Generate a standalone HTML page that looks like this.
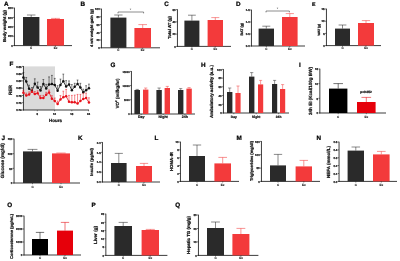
<!DOCTYPE html>
<html><head><meta charset="utf-8"><title>Figure</title>
<style>
html,body{margin:0;padding:0;background:#fff;}
body{width:400px;height:261px;overflow:hidden;}
svg{display:block;font-family:"Liberation Sans",sans-serif;text-rendering:geometricPrecision;}
</style></head><body>
<svg width="400" height="261" viewBox="0 0 400 261">
<rect x="0" y="0" width="400" height="261" fill="#ffffff"/>
<text x="4.00" y="5.70" font-size="6.3" text-anchor="start" font-weight="bold" fill="#000" stroke="#000" stroke-width="0.24">A</text>
<text x="6.00" y="26.00" font-size="4.27" text-anchor="middle" font-weight="bold" fill="#111" stroke="#111" stroke-width="0.24" transform="rotate(-90 6.00 26.00)" textLength="32" lengthAdjust="spacingAndGlyphs">Body weight (g)</text>
<line x1="14.45" y1="7.70" x2="14.45" y2="46.00" stroke="#1a1a1a" stroke-width="0.85"/>
<line x1="14.00" y1="45.60" x2="72.00" y2="45.60" stroke="#1a1a1a" stroke-width="0.85"/>
<line x1="13.00" y1="8.00" x2="14.40" y2="8.00" stroke="#1a1a1a" stroke-width="0.6"/>
<text x="12.70" y="9.20" font-size="2.8" text-anchor="end" font-weight="bold" fill="#222" stroke="#222" stroke-width="0.24">800</text>
<line x1="13.00" y1="17.40" x2="14.40" y2="17.40" stroke="#1a1a1a" stroke-width="0.6"/>
<text x="12.70" y="18.60" font-size="2.8" text-anchor="end" font-weight="bold" fill="#222" stroke="#222" stroke-width="0.24">600</text>
<line x1="13.00" y1="26.80" x2="14.40" y2="26.80" stroke="#1a1a1a" stroke-width="0.6"/>
<text x="12.70" y="28.00" font-size="2.8" text-anchor="end" font-weight="bold" fill="#222" stroke="#222" stroke-width="0.24">400</text>
<line x1="13.00" y1="36.20" x2="14.40" y2="36.20" stroke="#1a1a1a" stroke-width="0.6"/>
<text x="12.70" y="37.40" font-size="2.8" text-anchor="end" font-weight="bold" fill="#222" stroke="#222" stroke-width="0.24">200</text>
<line x1="13.00" y1="45.60" x2="14.40" y2="45.60" stroke="#1a1a1a" stroke-width="0.6"/>
<text x="12.70" y="46.80" font-size="2.8" text-anchor="end" font-weight="bold" fill="#222" stroke="#222" stroke-width="0.24">0</text>
<line x1="31.20" y1="15.00" x2="31.20" y2="17.00" stroke="#2a2a2a" stroke-width="0.55"/>
<line x1="26.94" y1="15.00" x2="35.46" y2="15.00" stroke="#2a2a2a" stroke-width="0.55"/>
<rect x="23.00" y="17.00" width="16.40" height="28.60" fill="#2a2a2a"/>
<line x1="55.50" y1="18.40" x2="55.50" y2="19.00" stroke="#f33a3b" stroke-width="0.55"/>
<line x1="51.08" y1="18.40" x2="59.92" y2="18.40" stroke="#f33a3b" stroke-width="0.55"/>
<rect x="47.00" y="19.00" width="17.00" height="26.60" fill="#f33a3b"/>
<line x1="31.20" y1="45.60" x2="31.20" y2="46.80" stroke="#1a1a1a" stroke-width="0.5"/>
<text x="31.20" y="49.30" font-size="3.0" text-anchor="middle" font-weight="bold" fill="#262626" stroke="#262626" stroke-width="0.14">C</text>
<line x1="55.50" y1="45.60" x2="55.50" y2="46.80" stroke="#1a1a1a" stroke-width="0.5"/>
<text x="55.50" y="49.30" font-size="3.0" text-anchor="middle" font-weight="bold" fill="#262626" stroke="#262626" stroke-width="0.14">Ex</text>
<text x="80.60" y="6.00" font-size="6.3" text-anchor="start" font-weight="bold" fill="#000" stroke="#000" stroke-width="0.24">B</text>
<text x="93.00" y="28.00" font-size="4.0" text-anchor="middle" font-weight="bold" fill="#111" stroke="#111" stroke-width="0.24" transform="rotate(-90 93.00 28.00)" textLength="38" lengthAdjust="spacingAndGlyphs">4 wk weight gain (g)</text>
<line x1="101.45" y1="8.70" x2="101.45" y2="48.20" stroke="#1a1a1a" stroke-width="0.85"/>
<line x1="101.00" y1="47.80" x2="160.00" y2="47.80" stroke="#1a1a1a" stroke-width="0.85"/>
<line x1="100.00" y1="9.00" x2="101.40" y2="9.00" stroke="#1a1a1a" stroke-width="0.6"/>
<text x="99.70" y="10.20" font-size="2.8" text-anchor="end" font-weight="bold" fill="#222" stroke="#222" stroke-width="0.24">100</text>
<line x1="100.00" y1="16.80" x2="101.40" y2="16.80" stroke="#1a1a1a" stroke-width="0.6"/>
<text x="99.70" y="18.00" font-size="2.8" text-anchor="end" font-weight="bold" fill="#222" stroke="#222" stroke-width="0.24">80</text>
<line x1="100.00" y1="24.50" x2="101.40" y2="24.50" stroke="#1a1a1a" stroke-width="0.6"/>
<text x="99.70" y="25.70" font-size="2.8" text-anchor="end" font-weight="bold" fill="#222" stroke="#222" stroke-width="0.24">60</text>
<line x1="100.00" y1="32.30" x2="101.40" y2="32.30" stroke="#1a1a1a" stroke-width="0.6"/>
<text x="99.70" y="33.50" font-size="2.8" text-anchor="end" font-weight="bold" fill="#222" stroke="#222" stroke-width="0.24">40</text>
<line x1="100.00" y1="40.00" x2="101.40" y2="40.00" stroke="#1a1a1a" stroke-width="0.6"/>
<text x="99.70" y="41.20" font-size="2.8" text-anchor="end" font-weight="bold" fill="#222" stroke="#222" stroke-width="0.24">20</text>
<line x1="100.00" y1="47.80" x2="101.40" y2="47.80" stroke="#1a1a1a" stroke-width="0.6"/>
<text x="99.70" y="49.00" font-size="2.8" text-anchor="end" font-weight="bold" fill="#222" stroke="#222" stroke-width="0.24">0</text>
<line x1="118.40" y1="15.00" x2="118.40" y2="17.60" stroke="#2a2a2a" stroke-width="0.55"/>
<line x1="114.24" y1="15.00" x2="122.56" y2="15.00" stroke="#2a2a2a" stroke-width="0.55"/>
<rect x="110.40" y="17.60" width="16.00" height="30.20" fill="#2a2a2a"/>
<line x1="142.70" y1="24.60" x2="142.70" y2="28.00" stroke="#f33a3b" stroke-width="0.55"/>
<line x1="138.38" y1="24.60" x2="147.02" y2="24.60" stroke="#f33a3b" stroke-width="0.55"/>
<rect x="134.40" y="28.00" width="16.60" height="19.80" fill="#f33a3b"/>
<line x1="118.40" y1="47.80" x2="118.40" y2="49.00" stroke="#1a1a1a" stroke-width="0.5"/>
<text x="118.40" y="50.50" font-size="3.0" text-anchor="middle" font-weight="bold" fill="#262626" stroke="#262626" stroke-width="0.14">C</text>
<line x1="142.70" y1="47.80" x2="142.70" y2="49.00" stroke="#1a1a1a" stroke-width="0.5"/>
<text x="142.70" y="50.50" font-size="3.0" text-anchor="middle" font-weight="bold" fill="#262626" stroke="#262626" stroke-width="0.14">Ex</text>
<line x1="118.00" y1="12.00" x2="143.60" y2="12.00" stroke="#1a1a1a" stroke-width="0.5"/>
<line x1="118.00" y1="12.00" x2="118.00" y2="13.40" stroke="#1a1a1a" stroke-width="0.5"/>
<line x1="143.60" y1="12.00" x2="143.60" y2="13.40" stroke="#1a1a1a" stroke-width="0.5"/>
<text x="130.60" y="10.90" font-size="3.8" text-anchor="middle" font-weight="bold" fill="#555" stroke="#555" stroke-width="0">*</text>
<text x="164.20" y="6.00" font-size="6.3" text-anchor="start" font-weight="bold" fill="#000" stroke="#000" stroke-width="0.24">C</text>
<text x="170.80" y="27.50" font-size="4.28" text-anchor="middle" font-weight="bold" fill="#111" stroke="#111" stroke-width="0.24" transform="rotate(-90 170.80 27.50)" textLength="23" lengthAdjust="spacingAndGlyphs">Total AT (g)</text>
<line x1="177.45" y1="9.30" x2="177.45" y2="46.80" stroke="#1a1a1a" stroke-width="0.85"/>
<line x1="177.00" y1="46.40" x2="231.00" y2="46.40" stroke="#1a1a1a" stroke-width="0.85"/>
<line x1="176.00" y1="9.60" x2="177.40" y2="9.60" stroke="#1a1a1a" stroke-width="0.6"/>
<text x="175.70" y="10.80" font-size="2.8" text-anchor="end" font-weight="bold" fill="#222" stroke="#222" stroke-width="0.24">60</text>
<line x1="176.00" y1="21.90" x2="177.40" y2="21.90" stroke="#1a1a1a" stroke-width="0.6"/>
<text x="175.70" y="23.10" font-size="2.8" text-anchor="end" font-weight="bold" fill="#222" stroke="#222" stroke-width="0.24">40</text>
<line x1="176.00" y1="34.10" x2="177.40" y2="34.10" stroke="#1a1a1a" stroke-width="0.6"/>
<text x="175.70" y="35.30" font-size="2.8" text-anchor="end" font-weight="bold" fill="#222" stroke="#222" stroke-width="0.24">20</text>
<line x1="176.00" y1="46.40" x2="177.40" y2="46.40" stroke="#1a1a1a" stroke-width="0.6"/>
<text x="175.70" y="47.60" font-size="2.8" text-anchor="end" font-weight="bold" fill="#222" stroke="#222" stroke-width="0.24">0</text>
<line x1="191.90" y1="15.20" x2="191.90" y2="20.60" stroke="#2a2a2a" stroke-width="0.55"/>
<line x1="188.00" y1="15.20" x2="195.80" y2="15.20" stroke="#2a2a2a" stroke-width="0.55"/>
<rect x="184.40" y="20.60" width="15.00" height="25.80" fill="#2a2a2a"/>
<line x1="215.30" y1="17.60" x2="215.30" y2="20.00" stroke="#f33a3b" stroke-width="0.55"/>
<line x1="211.30" y1="17.60" x2="219.30" y2="17.60" stroke="#f33a3b" stroke-width="0.55"/>
<rect x="207.60" y="20.00" width="15.40" height="26.40" fill="#f33a3b"/>
<line x1="191.90" y1="46.40" x2="191.90" y2="47.60" stroke="#1a1a1a" stroke-width="0.5"/>
<text x="191.90" y="49.90" font-size="3.0" text-anchor="middle" font-weight="bold" fill="#262626" stroke="#262626" stroke-width="0.14">C</text>
<line x1="215.30" y1="46.40" x2="215.30" y2="47.60" stroke="#1a1a1a" stroke-width="0.5"/>
<text x="215.30" y="49.90" font-size="3.0" text-anchor="middle" font-weight="bold" fill="#262626" stroke="#262626" stroke-width="0.14">Ex</text>
<text x="236.00" y="6.00" font-size="6.3" text-anchor="start" font-weight="bold" fill="#000" stroke="#000" stroke-width="0.24">D</text>
<text x="243.30" y="29.30" font-size="3.56" text-anchor="middle" font-weight="bold" fill="#111" stroke="#111" stroke-width="0.24" transform="rotate(-90 243.30 29.30)" textLength="12.6" lengthAdjust="spacingAndGlyphs">BAT (g)</text>
<line x1="251.45" y1="9.70" x2="251.45" y2="46.40" stroke="#1a1a1a" stroke-width="0.85"/>
<line x1="251.00" y1="46.00" x2="305.00" y2="46.00" stroke="#1a1a1a" stroke-width="0.85"/>
<line x1="250.00" y1="10.00" x2="251.40" y2="10.00" stroke="#1a1a1a" stroke-width="0.6"/>
<text x="249.70" y="11.20" font-size="2.8" text-anchor="end" font-weight="bold" fill="#222" stroke="#222" stroke-width="0.24">1.5</text>
<line x1="250.00" y1="22.00" x2="251.40" y2="22.00" stroke="#1a1a1a" stroke-width="0.6"/>
<text x="249.70" y="23.20" font-size="2.8" text-anchor="end" font-weight="bold" fill="#222" stroke="#222" stroke-width="0.24">1.0</text>
<line x1="250.00" y1="34.00" x2="251.40" y2="34.00" stroke="#1a1a1a" stroke-width="0.6"/>
<text x="249.70" y="35.20" font-size="2.8" text-anchor="end" font-weight="bold" fill="#222" stroke="#222" stroke-width="0.24">0.5</text>
<line x1="250.00" y1="46.00" x2="251.40" y2="46.00" stroke="#1a1a1a" stroke-width="0.6"/>
<text x="249.70" y="47.20" font-size="2.8" text-anchor="end" font-weight="bold" fill="#222" stroke="#222" stroke-width="0.24">0.0</text>
<line x1="266.30" y1="26.20" x2="266.30" y2="28.60" stroke="#2a2a2a" stroke-width="0.55"/>
<line x1="262.30" y1="26.20" x2="270.30" y2="26.20" stroke="#2a2a2a" stroke-width="0.55"/>
<rect x="258.60" y="28.60" width="15.40" height="17.40" fill="#2a2a2a"/>
<line x1="289.80" y1="13.60" x2="289.80" y2="17.00" stroke="#f33a3b" stroke-width="0.55"/>
<line x1="285.74" y1="13.60" x2="293.86" y2="13.60" stroke="#f33a3b" stroke-width="0.55"/>
<rect x="282.00" y="17.00" width="15.60" height="29.00" fill="#f33a3b"/>
<line x1="266.30" y1="46.00" x2="266.30" y2="47.20" stroke="#1a1a1a" stroke-width="0.5"/>
<text x="266.30" y="49.70" font-size="3.0" text-anchor="middle" font-weight="bold" fill="#262626" stroke="#262626" stroke-width="0.14">C</text>
<line x1="289.80" y1="46.00" x2="289.80" y2="47.20" stroke="#1a1a1a" stroke-width="0.5"/>
<text x="289.80" y="49.70" font-size="3.0" text-anchor="middle" font-weight="bold" fill="#262626" stroke="#262626" stroke-width="0.14">Ex</text>
<line x1="266.00" y1="11.00" x2="289.40" y2="11.00" stroke="#1a1a1a" stroke-width="0.5"/>
<line x1="266.00" y1="11.00" x2="266.00" y2="12.40" stroke="#1a1a1a" stroke-width="0.5"/>
<line x1="289.40" y1="11.00" x2="289.40" y2="12.40" stroke="#1a1a1a" stroke-width="0.5"/>
<text x="277.60" y="10.00" font-size="3.8" text-anchor="middle" font-weight="bold" fill="#555" stroke="#555" stroke-width="0">*</text>
<text x="312.00" y="5.70" font-size="5.2" text-anchor="start" font-weight="bold" fill="#000" stroke="#000" stroke-width="0.24">E</text>
<text x="319.80" y="29.80" font-size="3.13" text-anchor="middle" font-weight="bold" fill="#111" stroke="#111" stroke-width="0.24" transform="rotate(-90 319.80 29.80)" textLength="11.6" lengthAdjust="spacingAndGlyphs">WAT (g)</text>
<line x1="326.45" y1="8.70" x2="326.45" y2="46.00" stroke="#1a1a1a" stroke-width="0.85"/>
<line x1="326.00" y1="45.60" x2="381.00" y2="45.60" stroke="#1a1a1a" stroke-width="0.85"/>
<line x1="325.00" y1="9.00" x2="326.40" y2="9.00" stroke="#1a1a1a" stroke-width="0.6"/>
<text x="324.70" y="10.20" font-size="2.8" text-anchor="end" font-weight="bold" fill="#222" stroke="#222" stroke-width="0.24">15</text>
<line x1="325.00" y1="21.20" x2="326.40" y2="21.20" stroke="#1a1a1a" stroke-width="0.6"/>
<text x="324.70" y="22.40" font-size="2.8" text-anchor="end" font-weight="bold" fill="#222" stroke="#222" stroke-width="0.24">10</text>
<line x1="325.00" y1="33.40" x2="326.40" y2="33.40" stroke="#1a1a1a" stroke-width="0.6"/>
<text x="324.70" y="34.60" font-size="2.8" text-anchor="end" font-weight="bold" fill="#222" stroke="#222" stroke-width="0.24">5</text>
<line x1="325.00" y1="45.60" x2="326.40" y2="45.60" stroke="#1a1a1a" stroke-width="0.6"/>
<text x="324.70" y="46.80" font-size="2.8" text-anchor="end" font-weight="bold" fill="#222" stroke="#222" stroke-width="0.24">0</text>
<line x1="342.50" y1="25.00" x2="342.50" y2="28.60" stroke="#2a2a2a" stroke-width="0.55"/>
<line x1="338.60" y1="25.00" x2="346.40" y2="25.00" stroke="#2a2a2a" stroke-width="0.55"/>
<rect x="335.00" y="28.60" width="15.00" height="17.00" fill="#2a2a2a"/>
<line x1="366.00" y1="20.60" x2="366.00" y2="23.00" stroke="#f33a3b" stroke-width="0.55"/>
<line x1="361.84" y1="20.60" x2="370.16" y2="20.60" stroke="#f33a3b" stroke-width="0.55"/>
<rect x="358.00" y="23.00" width="16.00" height="22.60" fill="#f33a3b"/>
<line x1="342.50" y1="45.60" x2="342.50" y2="46.80" stroke="#1a1a1a" stroke-width="0.5"/>
<text x="342.50" y="49.30" font-size="3.0" text-anchor="middle" font-weight="bold" fill="#262626" stroke="#262626" stroke-width="0.14">C</text>
<line x1="366.00" y1="45.60" x2="366.00" y2="46.80" stroke="#1a1a1a" stroke-width="0.5"/>
<text x="366.00" y="49.30" font-size="3.0" text-anchor="middle" font-weight="bold" fill="#262626" stroke="#262626" stroke-width="0.14">Ex</text>
<rect x="24.00" y="66.40" width="31.00" height="43.60" fill="#dadada"/>
<text x="9.60" y="66.20" font-size="6.3" text-anchor="start" font-weight="bold" fill="#000" stroke="#000" stroke-width="0.24">F</text>
<text x="12.40" y="90.00" font-size="4.73" text-anchor="middle" font-weight="bold" fill="#111" stroke="#111" stroke-width="0.24" transform="rotate(-90 12.40 90.00)" textLength="10" lengthAdjust="spacingAndGlyphs">RER</text>
<line x1="23.45" y1="66.00" x2="23.45" y2="110.40" stroke="#1a1a1a" stroke-width="0.85"/>
<line x1="23.00" y1="110.00" x2="89.00" y2="110.00" stroke="#1a1a1a" stroke-width="0.85"/>
<line x1="22.00" y1="66.40" x2="23.40" y2="66.40" stroke="#1a1a1a" stroke-width="0.6"/>
<text x="21.70" y="67.60" font-size="2.8" text-anchor="end" font-weight="bold" fill="#222" stroke="#222" stroke-width="0.24">0.86</text>
<line x1="22.00" y1="73.70" x2="23.40" y2="73.70" stroke="#1a1a1a" stroke-width="0.6"/>
<text x="21.70" y="74.90" font-size="2.8" text-anchor="end" font-weight="bold" fill="#222" stroke="#222" stroke-width="0.24">0.84</text>
<line x1="22.00" y1="80.90" x2="23.40" y2="80.90" stroke="#1a1a1a" stroke-width="0.6"/>
<text x="21.70" y="82.10" font-size="2.8" text-anchor="end" font-weight="bold" fill="#222" stroke="#222" stroke-width="0.24">0.82</text>
<line x1="22.00" y1="88.20" x2="23.40" y2="88.20" stroke="#1a1a1a" stroke-width="0.6"/>
<text x="21.70" y="89.40" font-size="2.8" text-anchor="end" font-weight="bold" fill="#222" stroke="#222" stroke-width="0.24">0.80</text>
<line x1="22.00" y1="95.50" x2="23.40" y2="95.50" stroke="#1a1a1a" stroke-width="0.6"/>
<text x="21.70" y="96.70" font-size="2.8" text-anchor="end" font-weight="bold" fill="#222" stroke="#222" stroke-width="0.24">0.78</text>
<line x1="22.00" y1="102.70" x2="23.40" y2="102.70" stroke="#1a1a1a" stroke-width="0.6"/>
<text x="21.70" y="103.90" font-size="2.8" text-anchor="end" font-weight="bold" fill="#222" stroke="#222" stroke-width="0.24">0.76</text>
<line x1="22.00" y1="110.00" x2="23.40" y2="110.00" stroke="#1a1a1a" stroke-width="0.6"/>
<text x="21.70" y="111.20" font-size="2.8" text-anchor="end" font-weight="bold" fill="#222" stroke="#222" stroke-width="0.24">0.74</text>
<line x1="37.30" y1="110.00" x2="37.30" y2="111.30" stroke="#1a1a1a" stroke-width="0.5"/>
<text x="37.30" y="114.60" font-size="2.8" text-anchor="middle" font-weight="bold" fill="#222" stroke="#222" stroke-width="0.24">6</text>
<line x1="54.60" y1="110.00" x2="54.60" y2="111.30" stroke="#1a1a1a" stroke-width="0.5"/>
<text x="54.60" y="114.60" font-size="2.8" text-anchor="middle" font-weight="bold" fill="#222" stroke="#222" stroke-width="0.24">12</text>
<line x1="71.80" y1="110.00" x2="71.80" y2="111.30" stroke="#1a1a1a" stroke-width="0.5"/>
<text x="71.80" y="114.60" font-size="2.8" text-anchor="middle" font-weight="bold" fill="#222" stroke="#222" stroke-width="0.24">18</text>
<line x1="88.60" y1="110.00" x2="88.60" y2="111.30" stroke="#1a1a1a" stroke-width="0.5"/>
<text x="88.60" y="114.60" font-size="2.8" text-anchor="middle" font-weight="bold" fill="#222" stroke="#222" stroke-width="0.24">24</text>
<text x="55.50" y="121.60" font-size="4.5" text-anchor="middle" font-weight="bold" fill="#111" stroke="#111" stroke-width="0.24" textLength="13" lengthAdjust="spacingAndGlyphs">Hours</text>
<line x1="23.40" y1="77.50" x2="23.40" y2="72.50" stroke="#111" stroke-width="0.5"/>
<line x1="22.50" y1="72.50" x2="24.30" y2="72.50" stroke="#111" stroke-width="0.5"/>
<line x1="26.25" y1="81.50" x2="26.25" y2="77.50" stroke="#111" stroke-width="0.5"/>
<line x1="25.35" y1="77.50" x2="27.15" y2="77.50" stroke="#111" stroke-width="0.5"/>
<line x1="29.10" y1="88.70" x2="29.10" y2="85.20" stroke="#111" stroke-width="0.5"/>
<line x1="28.20" y1="85.20" x2="30.00" y2="85.20" stroke="#111" stroke-width="0.5"/>
<line x1="31.95" y1="91.00" x2="31.95" y2="87.50" stroke="#111" stroke-width="0.5"/>
<line x1="31.05" y1="87.50" x2="32.85" y2="87.50" stroke="#111" stroke-width="0.5"/>
<line x1="34.80" y1="83.80" x2="34.80" y2="78.80" stroke="#111" stroke-width="0.5"/>
<line x1="33.90" y1="78.80" x2="35.70" y2="78.80" stroke="#111" stroke-width="0.5"/>
<line x1="37.65" y1="87.60" x2="37.65" y2="82.10" stroke="#111" stroke-width="0.5"/>
<line x1="36.75" y1="82.10" x2="38.55" y2="82.10" stroke="#111" stroke-width="0.5"/>
<line x1="40.50" y1="90.50" x2="40.50" y2="86.50" stroke="#111" stroke-width="0.5"/>
<line x1="39.60" y1="86.50" x2="41.40" y2="86.50" stroke="#111" stroke-width="0.5"/>
<line x1="43.35" y1="84.10" x2="43.35" y2="79.50" stroke="#111" stroke-width="0.5"/>
<line x1="42.45" y1="79.50" x2="44.25" y2="79.50" stroke="#111" stroke-width="0.5"/>
<line x1="46.20" y1="88.40" x2="46.20" y2="84.40" stroke="#111" stroke-width="0.5"/>
<line x1="45.30" y1="84.40" x2="47.10" y2="84.40" stroke="#111" stroke-width="0.5"/>
<line x1="49.05" y1="84.60" x2="49.05" y2="76.90" stroke="#111" stroke-width="0.5"/>
<line x1="48.15" y1="76.90" x2="49.95" y2="76.90" stroke="#111" stroke-width="0.5"/>
<line x1="51.90" y1="84.10" x2="51.90" y2="75.40" stroke="#111" stroke-width="0.5"/>
<line x1="51.00" y1="75.40" x2="52.80" y2="75.40" stroke="#111" stroke-width="0.5"/>
<line x1="54.75" y1="84.90" x2="54.75" y2="78.40" stroke="#111" stroke-width="0.5"/>
<line x1="53.85" y1="78.40" x2="55.65" y2="78.40" stroke="#111" stroke-width="0.5"/>
<line x1="57.60" y1="90.70" x2="57.60" y2="85.70" stroke="#111" stroke-width="0.5"/>
<line x1="56.70" y1="85.70" x2="58.50" y2="85.70" stroke="#111" stroke-width="0.5"/>
<line x1="60.45" y1="84.90" x2="60.45" y2="79.10" stroke="#111" stroke-width="0.5"/>
<line x1="59.55" y1="79.10" x2="61.35" y2="79.10" stroke="#111" stroke-width="0.5"/>
<line x1="63.30" y1="81.30" x2="63.30" y2="74.10" stroke="#111" stroke-width="0.5"/>
<line x1="62.40" y1="74.10" x2="64.20" y2="74.10" stroke="#111" stroke-width="0.5"/>
<line x1="66.15" y1="86.60" x2="66.15" y2="80.60" stroke="#111" stroke-width="0.5"/>
<line x1="65.25" y1="80.60" x2="67.05" y2="80.60" stroke="#111" stroke-width="0.5"/>
<line x1="69.00" y1="84.40" x2="69.00" y2="80.90" stroke="#111" stroke-width="0.5"/>
<line x1="68.10" y1="80.90" x2="69.90" y2="80.90" stroke="#111" stroke-width="0.5"/>
<line x1="71.85" y1="90.30" x2="71.85" y2="84.60" stroke="#111" stroke-width="0.5"/>
<line x1="70.95" y1="84.60" x2="72.75" y2="84.60" stroke="#111" stroke-width="0.5"/>
<line x1="74.70" y1="86.80" x2="74.70" y2="83.30" stroke="#111" stroke-width="0.5"/>
<line x1="73.80" y1="83.30" x2="75.60" y2="83.30" stroke="#111" stroke-width="0.5"/>
<line x1="77.55" y1="84.00" x2="77.55" y2="80.00" stroke="#111" stroke-width="0.5"/>
<line x1="76.65" y1="80.00" x2="78.45" y2="80.00" stroke="#111" stroke-width="0.5"/>
<line x1="80.40" y1="87.60" x2="80.40" y2="83.30" stroke="#111" stroke-width="0.5"/>
<line x1="79.50" y1="83.30" x2="81.30" y2="83.30" stroke="#111" stroke-width="0.5"/>
<line x1="83.25" y1="92.20" x2="83.25" y2="89.20" stroke="#111" stroke-width="0.5"/>
<line x1="82.35" y1="89.20" x2="84.15" y2="89.20" stroke="#111" stroke-width="0.5"/>
<line x1="86.10" y1="90.30" x2="86.10" y2="85.70" stroke="#111" stroke-width="0.5"/>
<line x1="85.20" y1="85.70" x2="87.00" y2="85.70" stroke="#111" stroke-width="0.5"/>
<line x1="88.95" y1="88.20" x2="88.95" y2="84.10" stroke="#111" stroke-width="0.5"/>
<line x1="88.05" y1="84.10" x2="89.85" y2="84.10" stroke="#111" stroke-width="0.5"/>
<polyline points="23.40,77.50 26.25,81.50 29.10,88.70 31.95,91.00 34.80,83.80 37.65,87.60 40.50,90.50 43.35,84.10 46.20,88.40 49.05,84.60 51.90,84.10 54.75,84.90 57.60,90.70 60.45,84.90 63.30,81.30 66.15,86.60 69.00,84.40 71.85,90.30 74.70,86.80 77.55,84.00 80.40,87.60 83.25,92.20 86.10,90.30 88.95,88.20" fill="none" stroke="#111" stroke-width="0.8"/>
<circle cx="23.40" cy="77.50" r="1.25" fill="#111"/>
<circle cx="26.25" cy="81.50" r="1.25" fill="#111"/>
<circle cx="29.10" cy="88.70" r="1.25" fill="#111"/>
<circle cx="31.95" cy="91.00" r="1.25" fill="#111"/>
<circle cx="34.80" cy="83.80" r="1.25" fill="#111"/>
<circle cx="37.65" cy="87.60" r="1.25" fill="#111"/>
<circle cx="40.50" cy="90.50" r="1.25" fill="#111"/>
<circle cx="43.35" cy="84.10" r="1.25" fill="#111"/>
<circle cx="46.20" cy="88.40" r="1.25" fill="#111"/>
<circle cx="49.05" cy="84.60" r="1.25" fill="#111"/>
<circle cx="51.90" cy="84.10" r="1.25" fill="#111"/>
<circle cx="54.75" cy="84.90" r="1.25" fill="#111"/>
<circle cx="57.60" cy="90.70" r="1.25" fill="#111"/>
<circle cx="60.45" cy="84.90" r="1.25" fill="#111"/>
<circle cx="63.30" cy="81.30" r="1.25" fill="#111"/>
<circle cx="66.15" cy="86.60" r="1.25" fill="#111"/>
<circle cx="69.00" cy="84.40" r="1.25" fill="#111"/>
<circle cx="71.85" cy="90.30" r="1.25" fill="#111"/>
<circle cx="74.70" cy="86.80" r="1.25" fill="#111"/>
<circle cx="77.55" cy="84.00" r="1.25" fill="#111"/>
<circle cx="80.40" cy="87.60" r="1.25" fill="#111"/>
<circle cx="83.25" cy="92.20" r="1.25" fill="#111"/>
<circle cx="86.10" cy="90.30" r="1.25" fill="#111"/>
<circle cx="88.95" cy="88.20" r="1.25" fill="#111"/>
<line x1="23.40" y1="92.80" x2="23.40" y2="90.30" stroke="#e8101a" stroke-width="0.5"/>
<line x1="22.50" y1="90.30" x2="24.30" y2="90.30" stroke="#e8101a" stroke-width="0.5"/>
<line x1="26.25" y1="95.60" x2="26.25" y2="93.10" stroke="#e8101a" stroke-width="0.5"/>
<line x1="25.35" y1="93.10" x2="27.15" y2="93.10" stroke="#e8101a" stroke-width="0.5"/>
<line x1="29.10" y1="94.40" x2="29.10" y2="91.90" stroke="#e8101a" stroke-width="0.5"/>
<line x1="28.20" y1="91.90" x2="30.00" y2="91.90" stroke="#e8101a" stroke-width="0.5"/>
<line x1="31.95" y1="91.80" x2="31.95" y2="89.30" stroke="#e8101a" stroke-width="0.5"/>
<line x1="31.05" y1="89.30" x2="32.85" y2="89.30" stroke="#e8101a" stroke-width="0.5"/>
<line x1="34.80" y1="94.00" x2="34.80" y2="91.50" stroke="#e8101a" stroke-width="0.5"/>
<line x1="33.90" y1="91.50" x2="35.70" y2="91.50" stroke="#e8101a" stroke-width="0.5"/>
<line x1="37.65" y1="93.30" x2="37.65" y2="90.80" stroke="#e8101a" stroke-width="0.5"/>
<line x1="36.75" y1="90.80" x2="38.55" y2="90.80" stroke="#e8101a" stroke-width="0.5"/>
<line x1="40.50" y1="97.90" x2="40.50" y2="95.40" stroke="#e8101a" stroke-width="0.5"/>
<line x1="39.60" y1="95.40" x2="41.40" y2="95.40" stroke="#e8101a" stroke-width="0.5"/>
<line x1="43.35" y1="97.90" x2="43.35" y2="95.40" stroke="#e8101a" stroke-width="0.5"/>
<line x1="42.45" y1="95.40" x2="44.25" y2="95.40" stroke="#e8101a" stroke-width="0.5"/>
<line x1="46.20" y1="94.80" x2="46.20" y2="92.30" stroke="#e8101a" stroke-width="0.5"/>
<line x1="45.30" y1="92.30" x2="47.10" y2="92.30" stroke="#e8101a" stroke-width="0.5"/>
<line x1="49.05" y1="92.50" x2="49.05" y2="90.00" stroke="#e8101a" stroke-width="0.5"/>
<line x1="48.15" y1="90.00" x2="49.95" y2="90.00" stroke="#e8101a" stroke-width="0.5"/>
<line x1="51.90" y1="98.70" x2="51.90" y2="95.70" stroke="#e8101a" stroke-width="0.5"/>
<line x1="51.00" y1="95.70" x2="52.80" y2="95.70" stroke="#e8101a" stroke-width="0.5"/>
<line x1="54.75" y1="101.00" x2="54.75" y2="98.00" stroke="#e8101a" stroke-width="0.5"/>
<line x1="53.85" y1="98.00" x2="55.65" y2="98.00" stroke="#e8101a" stroke-width="0.5"/>
<line x1="57.60" y1="104.00" x2="57.60" y2="101.00" stroke="#e8101a" stroke-width="0.5"/>
<line x1="56.70" y1="101.00" x2="58.50" y2="101.00" stroke="#e8101a" stroke-width="0.5"/>
<line x1="60.45" y1="99.40" x2="60.45" y2="95.60" stroke="#e8101a" stroke-width="0.5"/>
<line x1="59.55" y1="95.60" x2="61.35" y2="95.60" stroke="#e8101a" stroke-width="0.5"/>
<line x1="63.30" y1="97.20" x2="63.30" y2="91.20" stroke="#e8101a" stroke-width="0.5"/>
<line x1="62.40" y1="91.20" x2="64.20" y2="91.20" stroke="#e8101a" stroke-width="0.5"/>
<line x1="66.15" y1="96.30" x2="66.15" y2="89.40" stroke="#e8101a" stroke-width="0.5"/>
<line x1="65.25" y1="89.40" x2="67.05" y2="89.40" stroke="#e8101a" stroke-width="0.5"/>
<line x1="69.00" y1="101.80" x2="69.00" y2="95.40" stroke="#e8101a" stroke-width="0.5"/>
<line x1="68.10" y1="95.40" x2="69.90" y2="95.40" stroke="#e8101a" stroke-width="0.5"/>
<line x1="71.85" y1="102.30" x2="71.85" y2="95.40" stroke="#e8101a" stroke-width="0.5"/>
<line x1="70.95" y1="95.40" x2="72.75" y2="95.40" stroke="#e8101a" stroke-width="0.5"/>
<line x1="74.70" y1="102.30" x2="74.70" y2="95.10" stroke="#e8101a" stroke-width="0.5"/>
<line x1="73.80" y1="95.10" x2="75.60" y2="95.10" stroke="#e8101a" stroke-width="0.5"/>
<line x1="77.55" y1="103.40" x2="77.55" y2="94.40" stroke="#e8101a" stroke-width="0.5"/>
<line x1="76.65" y1="94.40" x2="78.45" y2="94.40" stroke="#e8101a" stroke-width="0.5"/>
<line x1="80.40" y1="101.00" x2="80.40" y2="94.40" stroke="#e8101a" stroke-width="0.5"/>
<line x1="79.50" y1="94.40" x2="81.30" y2="94.40" stroke="#e8101a" stroke-width="0.5"/>
<line x1="83.25" y1="99.00" x2="83.25" y2="93.30" stroke="#e8101a" stroke-width="0.5"/>
<line x1="82.35" y1="93.30" x2="84.15" y2="93.30" stroke="#e8101a" stroke-width="0.5"/>
<line x1="86.10" y1="98.10" x2="86.10" y2="93.10" stroke="#e8101a" stroke-width="0.5"/>
<line x1="85.20" y1="93.10" x2="87.00" y2="93.10" stroke="#e8101a" stroke-width="0.5"/>
<line x1="88.95" y1="102.40" x2="88.95" y2="97.80" stroke="#e8101a" stroke-width="0.5"/>
<line x1="88.05" y1="97.80" x2="89.85" y2="97.80" stroke="#e8101a" stroke-width="0.5"/>
<polyline points="23.40,92.80 26.25,95.60 29.10,94.40 31.95,91.80 34.80,94.00 37.65,93.30 40.50,97.90 43.35,97.90 46.20,94.80 49.05,92.50 51.90,98.70 54.75,101.00 57.60,104.00 60.45,99.40 63.30,97.20 66.15,96.30 69.00,101.80 71.85,102.30 74.70,102.30 77.55,103.40 80.40,101.00 83.25,99.00 86.10,98.10 88.95,102.40" fill="none" stroke="#e8101a" stroke-width="0.8"/>
<circle cx="23.40" cy="92.80" r="1.25" fill="#e8101a"/>
<circle cx="26.25" cy="95.60" r="1.25" fill="#e8101a"/>
<circle cx="29.10" cy="94.40" r="1.25" fill="#e8101a"/>
<circle cx="31.95" cy="91.80" r="1.25" fill="#e8101a"/>
<circle cx="34.80" cy="94.00" r="1.25" fill="#e8101a"/>
<circle cx="37.65" cy="93.30" r="1.25" fill="#e8101a"/>
<circle cx="40.50" cy="97.90" r="1.25" fill="#e8101a"/>
<circle cx="43.35" cy="97.90" r="1.25" fill="#e8101a"/>
<circle cx="46.20" cy="94.80" r="1.25" fill="#e8101a"/>
<circle cx="49.05" cy="92.50" r="1.25" fill="#e8101a"/>
<circle cx="51.90" cy="98.70" r="1.25" fill="#e8101a"/>
<circle cx="54.75" cy="101.00" r="1.25" fill="#e8101a"/>
<circle cx="57.60" cy="104.00" r="1.25" fill="#e8101a"/>
<circle cx="60.45" cy="99.40" r="1.25" fill="#e8101a"/>
<circle cx="63.30" cy="97.20" r="1.25" fill="#e8101a"/>
<circle cx="66.15" cy="96.30" r="1.25" fill="#e8101a"/>
<circle cx="69.00" cy="101.80" r="1.25" fill="#e8101a"/>
<circle cx="71.85" cy="102.30" r="1.25" fill="#e8101a"/>
<circle cx="74.70" cy="102.30" r="1.25" fill="#e8101a"/>
<circle cx="77.55" cy="103.40" r="1.25" fill="#e8101a"/>
<circle cx="80.40" cy="101.00" r="1.25" fill="#e8101a"/>
<circle cx="83.25" cy="99.00" r="1.25" fill="#e8101a"/>
<circle cx="86.10" cy="98.10" r="1.25" fill="#e8101a"/>
<circle cx="88.95" cy="102.40" r="1.25" fill="#e8101a"/>
<text x="110.60" y="67.00" font-size="6.3" text-anchor="start" font-weight="bold" fill="#000" stroke="#000" stroke-width="0.24">G</text>
<text x="118.9" y="93.5" font-size="4.5" font-weight="bold" fill="#111" stroke="#111" stroke-width="0.18" text-anchor="middle" transform="rotate(-90 118.9 93.5)">VO<tspan font-size="2.8" dy="-1.6">2</tspan><tspan dy="1.6"> (ml/kg/hr)</tspan></text>
<line x1="131.45" y1="71.10" x2="131.45" y2="114.40" stroke="#1a1a1a" stroke-width="0.85"/>
<line x1="131.00" y1="114.00" x2="195.00" y2="114.00" stroke="#1a1a1a" stroke-width="0.85"/>
<line x1="130.00" y1="71.40" x2="131.40" y2="71.40" stroke="#1a1a1a" stroke-width="0.6"/>
<text x="129.70" y="72.60" font-size="2.6" text-anchor="end" font-weight="bold" fill="#222" stroke="#222" stroke-width="0.24">15000</text>
<line x1="130.00" y1="85.60" x2="131.40" y2="85.60" stroke="#1a1a1a" stroke-width="0.6"/>
<text x="129.70" y="86.80" font-size="2.6" text-anchor="end" font-weight="bold" fill="#222" stroke="#222" stroke-width="0.24">10000</text>
<line x1="130.00" y1="99.80" x2="131.40" y2="99.80" stroke="#1a1a1a" stroke-width="0.6"/>
<text x="129.70" y="101.00" font-size="2.6" text-anchor="end" font-weight="bold" fill="#222" stroke="#222" stroke-width="0.24">5000</text>
<line x1="130.00" y1="114.00" x2="131.40" y2="114.00" stroke="#1a1a1a" stroke-width="0.6"/>
<text x="129.70" y="115.20" font-size="2.6" text-anchor="end" font-weight="bold" fill="#222" stroke="#222" stroke-width="0.24">0</text>
<line x1="137.20" y1="89.40" x2="137.20" y2="90.00" stroke="#2a2a2a" stroke-width="0.5"/>
<line x1="135.52" y1="89.40" x2="138.88" y2="89.40" stroke="#2a2a2a" stroke-width="0.5"/>
<rect x="134.40" y="90.00" width="5.60" height="24.00" fill="#2a2a2a"/>
<line x1="145.70" y1="88.00" x2="145.70" y2="89.60" stroke="#f33a3b" stroke-width="0.5"/>
<line x1="144.08" y1="88.00" x2="147.32" y2="88.00" stroke="#f33a3b" stroke-width="0.5"/>
<rect x="143.00" y="89.60" width="5.40" height="24.40" fill="#f33a3b"/>
<line x1="159.10" y1="88.00" x2="159.10" y2="90.00" stroke="#2a2a2a" stroke-width="0.5"/>
<line x1="157.48" y1="88.00" x2="160.72" y2="88.00" stroke="#2a2a2a" stroke-width="0.5"/>
<rect x="156.40" y="90.00" width="5.40" height="24.00" fill="#2a2a2a"/>
<line x1="167.30" y1="86.40" x2="167.30" y2="88.00" stroke="#f33a3b" stroke-width="0.5"/>
<line x1="165.68" y1="86.40" x2="168.92" y2="86.40" stroke="#f33a3b" stroke-width="0.5"/>
<rect x="164.60" y="88.00" width="5.40" height="26.00" fill="#f33a3b"/>
<line x1="180.70" y1="88.60" x2="180.70" y2="90.00" stroke="#2a2a2a" stroke-width="0.5"/>
<line x1="179.08" y1="88.60" x2="182.32" y2="88.60" stroke="#2a2a2a" stroke-width="0.5"/>
<rect x="178.00" y="90.00" width="5.40" height="24.00" fill="#2a2a2a"/>
<line x1="189.10" y1="87.60" x2="189.10" y2="88.60" stroke="#f33a3b" stroke-width="0.5"/>
<line x1="187.48" y1="87.60" x2="190.72" y2="87.60" stroke="#f33a3b" stroke-width="0.5"/>
<rect x="186.40" y="88.60" width="5.40" height="25.40" fill="#f33a3b"/>
<line x1="141.20" y1="114.00" x2="141.20" y2="115.20" stroke="#1a1a1a" stroke-width="0.5"/>
<text x="141.20" y="118.30" font-size="3.6" text-anchor="middle" font-weight="bold" fill="#222" stroke="#222" stroke-width="0.24">Day</text>
<line x1="163.20" y1="114.00" x2="163.20" y2="115.20" stroke="#1a1a1a" stroke-width="0.5"/>
<text x="163.20" y="118.30" font-size="3.6" text-anchor="middle" font-weight="bold" fill="#222" stroke="#222" stroke-width="0.24">Night</text>
<line x1="184.90" y1="114.00" x2="184.90" y2="115.20" stroke="#1a1a1a" stroke-width="0.5"/>
<text x="184.90" y="118.30" font-size="3.6" text-anchor="middle" font-weight="bold" fill="#222" stroke="#222" stroke-width="0.24">24h</text>
<text x="201.00" y="67.00" font-size="6.3" text-anchor="start" font-weight="bold" fill="#000" stroke="#000" stroke-width="0.24">H</text>
<text x="213.20" y="91.50" font-size="4.44" text-anchor="middle" font-weight="bold" fill="#111" stroke="#111" stroke-width="0.24" transform="rotate(-90 213.20 91.50)" textLength="53" lengthAdjust="spacingAndGlyphs">Ambulatory activity (a.u.)</text>
<line x1="223.45" y1="69.10" x2="223.45" y2="113.40" stroke="#1a1a1a" stroke-width="0.85"/>
<line x1="223.00" y1="113.00" x2="289.00" y2="113.00" stroke="#1a1a1a" stroke-width="0.85"/>
<line x1="222.00" y1="69.40" x2="223.40" y2="69.40" stroke="#1a1a1a" stroke-width="0.6"/>
<text x="221.70" y="70.60" font-size="2.8" text-anchor="end" font-weight="bold" fill="#222" stroke="#222" stroke-width="0.24">100</text>
<line x1="222.00" y1="78.10" x2="223.40" y2="78.10" stroke="#1a1a1a" stroke-width="0.6"/>
<text x="221.70" y="79.30" font-size="2.8" text-anchor="end" font-weight="bold" fill="#222" stroke="#222" stroke-width="0.24">80</text>
<line x1="222.00" y1="86.80" x2="223.40" y2="86.80" stroke="#1a1a1a" stroke-width="0.6"/>
<text x="221.70" y="88.00" font-size="2.8" text-anchor="end" font-weight="bold" fill="#222" stroke="#222" stroke-width="0.24">60</text>
<line x1="222.00" y1="95.60" x2="223.40" y2="95.60" stroke="#1a1a1a" stroke-width="0.6"/>
<text x="221.70" y="96.80" font-size="2.8" text-anchor="end" font-weight="bold" fill="#222" stroke="#222" stroke-width="0.24">40</text>
<line x1="222.00" y1="104.30" x2="223.40" y2="104.30" stroke="#1a1a1a" stroke-width="0.6"/>
<text x="221.70" y="105.50" font-size="2.8" text-anchor="end" font-weight="bold" fill="#222" stroke="#222" stroke-width="0.24">20</text>
<line x1="222.00" y1="113.00" x2="223.40" y2="113.00" stroke="#1a1a1a" stroke-width="0.6"/>
<text x="221.70" y="114.20" font-size="2.8" text-anchor="end" font-weight="bold" fill="#222" stroke="#222" stroke-width="0.24">0</text>
<line x1="229.70" y1="88.00" x2="229.70" y2="92.00" stroke="#2a2a2a" stroke-width="0.5"/>
<line x1="228.08" y1="88.00" x2="231.32" y2="88.00" stroke="#2a2a2a" stroke-width="0.5"/>
<rect x="227.00" y="92.00" width="5.40" height="21.00" fill="#2a2a2a"/>
<line x1="238.00" y1="86.00" x2="238.00" y2="93.00" stroke="#f33a3b" stroke-width="0.5"/>
<line x1="236.44" y1="86.00" x2="239.56" y2="86.00" stroke="#f33a3b" stroke-width="0.5"/>
<rect x="235.40" y="93.00" width="5.20" height="20.00" fill="#f33a3b"/>
<line x1="251.70" y1="72.60" x2="251.70" y2="76.60" stroke="#2a2a2a" stroke-width="0.5"/>
<line x1="250.08" y1="72.60" x2="253.32" y2="72.60" stroke="#2a2a2a" stroke-width="0.5"/>
<rect x="249.00" y="76.60" width="5.40" height="36.40" fill="#2a2a2a"/>
<line x1="260.60" y1="80.40" x2="260.60" y2="84.40" stroke="#f33a3b" stroke-width="0.5"/>
<line x1="259.04" y1="80.40" x2="262.16" y2="80.40" stroke="#f33a3b" stroke-width="0.5"/>
<rect x="258.00" y="84.40" width="5.20" height="28.60" fill="#f33a3b"/>
<line x1="274.60" y1="80.40" x2="274.60" y2="84.00" stroke="#2a2a2a" stroke-width="0.5"/>
<line x1="273.04" y1="80.40" x2="276.16" y2="80.40" stroke="#2a2a2a" stroke-width="0.5"/>
<rect x="272.00" y="84.00" width="5.20" height="29.00" fill="#2a2a2a"/>
<line x1="282.60" y1="84.60" x2="282.60" y2="89.00" stroke="#f33a3b" stroke-width="0.5"/>
<line x1="281.04" y1="84.60" x2="284.16" y2="84.60" stroke="#f33a3b" stroke-width="0.5"/>
<rect x="280.00" y="89.00" width="5.20" height="24.00" fill="#f33a3b"/>
<line x1="233.80" y1="113.00" x2="233.80" y2="114.20" stroke="#1a1a1a" stroke-width="0.5"/>
<text x="233.80" y="117.50" font-size="3.3" text-anchor="middle" font-weight="bold" fill="#222" stroke="#222" stroke-width="0.24">Day</text>
<line x1="256.20" y1="113.00" x2="256.20" y2="114.20" stroke="#1a1a1a" stroke-width="0.5"/>
<text x="256.20" y="117.50" font-size="3.3" text-anchor="middle" font-weight="bold" fill="#222" stroke="#222" stroke-width="0.24">Night</text>
<line x1="278.60" y1="113.00" x2="278.60" y2="114.20" stroke="#1a1a1a" stroke-width="0.5"/>
<text x="278.60" y="117.50" font-size="3.3" text-anchor="middle" font-weight="bold" fill="#222" stroke="#222" stroke-width="0.24">24h</text>
<text x="299.00" y="66.80" font-size="6.3" text-anchor="start" font-weight="bold" fill="#000" stroke="#000" stroke-width="0.24">I</text>
<text x="312.40" y="91.00" font-size="4.57" text-anchor="middle" font-weight="bold" fill="#111" stroke="#111" stroke-width="0.24" transform="rotate(-90 312.40 91.00)" textLength="48" lengthAdjust="spacingAndGlyphs">24h EI (Kcal/100g BW)</text>
<line x1="319.85" y1="68.70" x2="319.85" y2="113.40" stroke="#1a1a1a" stroke-width="0.85"/>
<line x1="319.40" y1="113.00" x2="386.00" y2="113.00" stroke="#1a1a1a" stroke-width="0.85"/>
<line x1="318.40" y1="69.00" x2="319.80" y2="69.00" stroke="#1a1a1a" stroke-width="0.6"/>
<text x="318.10" y="70.20" font-size="2.8" text-anchor="end" font-weight="bold" fill="#222" stroke="#222" stroke-width="0.24">15</text>
<line x1="318.40" y1="83.70" x2="319.80" y2="83.70" stroke="#1a1a1a" stroke-width="0.6"/>
<text x="318.10" y="84.90" font-size="2.8" text-anchor="end" font-weight="bold" fill="#222" stroke="#222" stroke-width="0.24">10</text>
<line x1="318.40" y1="98.30" x2="319.80" y2="98.30" stroke="#1a1a1a" stroke-width="0.6"/>
<text x="318.10" y="99.50" font-size="2.8" text-anchor="end" font-weight="bold" fill="#222" stroke="#222" stroke-width="0.24">5</text>
<line x1="318.40" y1="113.00" x2="319.80" y2="113.00" stroke="#1a1a1a" stroke-width="0.6"/>
<text x="318.10" y="114.20" font-size="2.8" text-anchor="end" font-weight="bold" fill="#222" stroke="#222" stroke-width="0.24">0</text>
<line x1="338.20" y1="83.60" x2="338.20" y2="88.60" stroke="#000000" stroke-width="0.55"/>
<line x1="333.42" y1="83.60" x2="342.98" y2="83.60" stroke="#000000" stroke-width="0.55"/>
<rect x="329.00" y="88.60" width="18.40" height="24.40" fill="#000000"/>
<line x1="366.30" y1="97.40" x2="366.30" y2="102.00" stroke="#e6000a" stroke-width="0.55"/>
<line x1="361.46" y1="97.40" x2="371.14" y2="97.40" stroke="#e6000a" stroke-width="0.55"/>
<rect x="357.00" y="102.00" width="18.60" height="11.00" fill="#e6000a"/>
<line x1="338.20" y1="113.00" x2="338.20" y2="114.20" stroke="#1a1a1a" stroke-width="0.5"/>
<text x="338.20" y="117.70" font-size="3.0" text-anchor="middle" font-weight="bold" fill="#262626" stroke="#262626" stroke-width="0.14">C</text>
<line x1="366.30" y1="113.00" x2="366.30" y2="114.20" stroke="#1a1a1a" stroke-width="0.5"/>
<text x="366.30" y="117.70" font-size="3.0" text-anchor="middle" font-weight="bold" fill="#262626" stroke="#262626" stroke-width="0.14">Ex</text>
<text x="366.00" y="93.00" font-size="3.11" text-anchor="middle" font-weight="bold" fill="#111" stroke="#111" stroke-width="0.24" textLength="11.5" lengthAdjust="spacingAndGlyphs">p=0.052</text>
<text x="1.40" y="139.80" font-size="6.3" text-anchor="start" font-weight="bold" fill="#000" stroke="#000" stroke-width="0.24">J</text>
<text x="4.30" y="160.70" font-size="4.63" text-anchor="middle" font-weight="bold" fill="#111" stroke="#111" stroke-width="0.24" transform="rotate(-90 4.30 160.70)" textLength="35" lengthAdjust="spacingAndGlyphs">Glucose (mg/dl)</text>
<line x1="14.05" y1="138.70" x2="14.05" y2="183.40" stroke="#1a1a1a" stroke-width="0.85"/>
<line x1="13.60" y1="183.00" x2="80.00" y2="183.00" stroke="#1a1a1a" stroke-width="0.85"/>
<line x1="12.60" y1="139.00" x2="14.00" y2="139.00" stroke="#1a1a1a" stroke-width="0.6"/>
<text x="12.30" y="140.20" font-size="2.8" text-anchor="end" font-weight="bold" fill="#222" stroke="#222" stroke-width="0.24">150</text>
<line x1="12.60" y1="153.70" x2="14.00" y2="153.70" stroke="#1a1a1a" stroke-width="0.6"/>
<text x="12.30" y="154.90" font-size="2.8" text-anchor="end" font-weight="bold" fill="#222" stroke="#222" stroke-width="0.24">100</text>
<line x1="12.60" y1="168.30" x2="14.00" y2="168.30" stroke="#1a1a1a" stroke-width="0.6"/>
<text x="12.30" y="169.50" font-size="2.8" text-anchor="end" font-weight="bold" fill="#222" stroke="#222" stroke-width="0.24">50</text>
<line x1="12.60" y1="183.00" x2="14.00" y2="183.00" stroke="#1a1a1a" stroke-width="0.6"/>
<text x="12.30" y="184.20" font-size="2.8" text-anchor="end" font-weight="bold" fill="#222" stroke="#222" stroke-width="0.24">0</text>
<line x1="32.50" y1="149.40" x2="32.50" y2="151.40" stroke="#2a2a2a" stroke-width="0.55"/>
<line x1="27.56" y1="149.40" x2="37.44" y2="149.40" stroke="#2a2a2a" stroke-width="0.55"/>
<rect x="23.00" y="151.40" width="19.00" height="31.60" fill="#2a2a2a"/>
<line x1="61.00" y1="153.00" x2="61.00" y2="153.40" stroke="#f33a3b" stroke-width="0.55"/>
<line x1="56.32" y1="153.00" x2="65.68" y2="153.00" stroke="#f33a3b" stroke-width="0.55"/>
<rect x="52.00" y="153.40" width="18.00" height="29.60" fill="#f33a3b"/>
<line x1="32.50" y1="183.00" x2="32.50" y2="184.20" stroke="#1a1a1a" stroke-width="0.5"/>
<text x="32.50" y="187.70" font-size="3.0" text-anchor="middle" font-weight="bold" fill="#262626" stroke="#262626" stroke-width="0.14">C</text>
<line x1="61.00" y1="183.00" x2="61.00" y2="184.20" stroke="#1a1a1a" stroke-width="0.5"/>
<text x="61.00" y="187.70" font-size="3.0" text-anchor="middle" font-weight="bold" fill="#262626" stroke="#262626" stroke-width="0.14">Ex</text>
<text x="78.00" y="139.80" font-size="6.3" text-anchor="start" font-weight="bold" fill="#000" stroke="#000" stroke-width="0.24">K</text>
<text x="93.20" y="162.00" font-size="4.1" text-anchor="middle" font-weight="bold" fill="#111" stroke="#111" stroke-width="0.24" transform="rotate(-90 93.20 162.00)" textLength="28" lengthAdjust="spacingAndGlyphs">Insulin (pg/ml)</text>
<line x1="102.45" y1="142.10" x2="102.45" y2="182.40" stroke="#1a1a1a" stroke-width="0.85"/>
<line x1="102.00" y1="182.00" x2="160.00" y2="182.00" stroke="#1a1a1a" stroke-width="0.85"/>
<line x1="101.00" y1="142.40" x2="102.40" y2="142.40" stroke="#1a1a1a" stroke-width="0.6"/>
<text x="100.70" y="143.60" font-size="2.8" text-anchor="end" font-weight="bold" fill="#222" stroke="#222" stroke-width="0.24">2.0</text>
<line x1="101.00" y1="152.30" x2="102.40" y2="152.30" stroke="#1a1a1a" stroke-width="0.6"/>
<text x="100.70" y="153.50" font-size="2.8" text-anchor="end" font-weight="bold" fill="#222" stroke="#222" stroke-width="0.24">1.5</text>
<line x1="101.00" y1="162.20" x2="102.40" y2="162.20" stroke="#1a1a1a" stroke-width="0.6"/>
<text x="100.70" y="163.40" font-size="2.8" text-anchor="end" font-weight="bold" fill="#222" stroke="#222" stroke-width="0.24">1.0</text>
<line x1="101.00" y1="172.10" x2="102.40" y2="172.10" stroke="#1a1a1a" stroke-width="0.6"/>
<text x="100.70" y="173.30" font-size="2.8" text-anchor="end" font-weight="bold" fill="#222" stroke="#222" stroke-width="0.24">0.5</text>
<line x1="101.00" y1="182.00" x2="102.40" y2="182.00" stroke="#1a1a1a" stroke-width="0.6"/>
<text x="100.70" y="183.20" font-size="2.8" text-anchor="end" font-weight="bold" fill="#222" stroke="#222" stroke-width="0.24">0.0</text>
<line x1="118.80" y1="153.40" x2="118.80" y2="163.00" stroke="#2a2a2a" stroke-width="0.55"/>
<line x1="114.74" y1="153.40" x2="122.86" y2="153.40" stroke="#2a2a2a" stroke-width="0.55"/>
<rect x="111.00" y="163.00" width="15.60" height="19.00" fill="#2a2a2a"/>
<line x1="144.00" y1="163.40" x2="144.00" y2="166.00" stroke="#f33a3b" stroke-width="0.55"/>
<line x1="139.84" y1="163.40" x2="148.16" y2="163.40" stroke="#f33a3b" stroke-width="0.55"/>
<rect x="136.00" y="166.00" width="16.00" height="16.00" fill="#f33a3b"/>
<line x1="118.80" y1="182.00" x2="118.80" y2="183.20" stroke="#1a1a1a" stroke-width="0.5"/>
<text x="118.80" y="186.30" font-size="3.0" text-anchor="middle" font-weight="bold" fill="#262626" stroke="#262626" stroke-width="0.14">C</text>
<line x1="144.00" y1="182.00" x2="144.00" y2="183.20" stroke="#1a1a1a" stroke-width="0.5"/>
<text x="144.00" y="186.30" font-size="3.0" text-anchor="middle" font-weight="bold" fill="#262626" stroke="#262626" stroke-width="0.14">Ex</text>
<text x="154.60" y="139.80" font-size="6.3" text-anchor="start" font-weight="bold" fill="#000" stroke="#000" stroke-width="0.24">L</text>
<text x="172.60" y="161.50" font-size="4.33" text-anchor="middle" font-weight="bold" fill="#111" stroke="#111" stroke-width="0.24" transform="rotate(-90 172.60 161.50)" textLength="19" lengthAdjust="spacingAndGlyphs">HOMA-IR</text>
<line x1="180.45" y1="141.70" x2="180.45" y2="181.80" stroke="#1a1a1a" stroke-width="0.85"/>
<line x1="180.00" y1="181.40" x2="239.00" y2="181.40" stroke="#1a1a1a" stroke-width="0.85"/>
<line x1="179.00" y1="142.00" x2="180.40" y2="142.00" stroke="#1a1a1a" stroke-width="0.6"/>
<text x="178.70" y="143.20" font-size="2.8" text-anchor="end" font-weight="bold" fill="#222" stroke="#222" stroke-width="0.24">10</text>
<line x1="179.00" y1="149.90" x2="180.40" y2="149.90" stroke="#1a1a1a" stroke-width="0.6"/>
<text x="178.70" y="151.10" font-size="2.8" text-anchor="end" font-weight="bold" fill="#222" stroke="#222" stroke-width="0.24">8</text>
<line x1="179.00" y1="157.80" x2="180.40" y2="157.80" stroke="#1a1a1a" stroke-width="0.6"/>
<text x="178.70" y="159.00" font-size="2.8" text-anchor="end" font-weight="bold" fill="#222" stroke="#222" stroke-width="0.24">6</text>
<line x1="179.00" y1="165.60" x2="180.40" y2="165.60" stroke="#1a1a1a" stroke-width="0.6"/>
<text x="178.70" y="166.80" font-size="2.8" text-anchor="end" font-weight="bold" fill="#222" stroke="#222" stroke-width="0.24">4</text>
<line x1="179.00" y1="173.50" x2="180.40" y2="173.50" stroke="#1a1a1a" stroke-width="0.6"/>
<text x="178.70" y="174.70" font-size="2.8" text-anchor="end" font-weight="bold" fill="#222" stroke="#222" stroke-width="0.24">2</text>
<line x1="179.00" y1="181.40" x2="180.40" y2="181.40" stroke="#1a1a1a" stroke-width="0.6"/>
<text x="178.70" y="182.60" font-size="2.8" text-anchor="end" font-weight="bold" fill="#222" stroke="#222" stroke-width="0.24">0</text>
<line x1="197.00" y1="145.00" x2="197.00" y2="156.00" stroke="#2a2a2a" stroke-width="0.55"/>
<line x1="192.84" y1="145.00" x2="201.16" y2="145.00" stroke="#2a2a2a" stroke-width="0.55"/>
<rect x="189.00" y="156.00" width="16.00" height="25.40" fill="#2a2a2a"/>
<line x1="222.70" y1="157.40" x2="222.70" y2="163.40" stroke="#f33a3b" stroke-width="0.55"/>
<line x1="218.38" y1="157.40" x2="227.02" y2="157.40" stroke="#f33a3b" stroke-width="0.55"/>
<rect x="214.40" y="163.40" width="16.60" height="18.00" fill="#f33a3b"/>
<line x1="197.00" y1="181.40" x2="197.00" y2="182.60" stroke="#1a1a1a" stroke-width="0.5"/>
<text x="197.00" y="185.90" font-size="3.0" text-anchor="middle" font-weight="bold" fill="#262626" stroke="#262626" stroke-width="0.14">C</text>
<line x1="222.70" y1="181.40" x2="222.70" y2="182.60" stroke="#1a1a1a" stroke-width="0.5"/>
<text x="222.70" y="185.90" font-size="3.0" text-anchor="middle" font-weight="bold" fill="#262626" stroke="#262626" stroke-width="0.14">Ex</text>
<text x="236.60" y="139.80" font-size="6.3" text-anchor="start" font-weight="bold" fill="#000" stroke="#000" stroke-width="0.24">M</text>
<text x="252.60" y="161.00" font-size="4.09" text-anchor="middle" font-weight="bold" fill="#111" stroke="#111" stroke-width="0.24" transform="rotate(-90 252.60 161.00)" textLength="40" lengthAdjust="spacingAndGlyphs">Triglycerides (mg/dl)</text>
<line x1="261.45" y1="141.10" x2="261.45" y2="181.80" stroke="#1a1a1a" stroke-width="0.85"/>
<line x1="261.00" y1="181.40" x2="320.00" y2="181.40" stroke="#1a1a1a" stroke-width="0.85"/>
<line x1="260.00" y1="141.40" x2="261.40" y2="141.40" stroke="#1a1a1a" stroke-width="0.6"/>
<text x="259.70" y="142.60" font-size="2.8" text-anchor="end" font-weight="bold" fill="#222" stroke="#222" stroke-width="0.24">150</text>
<line x1="260.00" y1="154.70" x2="261.40" y2="154.70" stroke="#1a1a1a" stroke-width="0.6"/>
<text x="259.70" y="155.90" font-size="2.8" text-anchor="end" font-weight="bold" fill="#222" stroke="#222" stroke-width="0.24">100</text>
<line x1="260.00" y1="168.10" x2="261.40" y2="168.10" stroke="#1a1a1a" stroke-width="0.6"/>
<text x="259.70" y="169.30" font-size="2.8" text-anchor="end" font-weight="bold" fill="#222" stroke="#222" stroke-width="0.24">50</text>
<line x1="260.00" y1="181.40" x2="261.40" y2="181.40" stroke="#1a1a1a" stroke-width="0.6"/>
<text x="259.70" y="182.60" font-size="2.8" text-anchor="end" font-weight="bold" fill="#222" stroke="#222" stroke-width="0.24">0</text>
<line x1="278.00" y1="154.40" x2="278.00" y2="165.40" stroke="#2a2a2a" stroke-width="0.55"/>
<line x1="273.84" y1="154.40" x2="282.16" y2="154.40" stroke="#2a2a2a" stroke-width="0.55"/>
<rect x="270.00" y="165.40" width="16.00" height="16.00" fill="#2a2a2a"/>
<line x1="303.80" y1="160.40" x2="303.80" y2="166.40" stroke="#f33a3b" stroke-width="0.55"/>
<line x1="299.54" y1="160.40" x2="308.06" y2="160.40" stroke="#f33a3b" stroke-width="0.55"/>
<rect x="295.60" y="166.40" width="16.40" height="15.00" fill="#f33a3b"/>
<line x1="278.00" y1="181.40" x2="278.00" y2="182.60" stroke="#1a1a1a" stroke-width="0.5"/>
<text x="278.00" y="185.90" font-size="3.0" text-anchor="middle" font-weight="bold" fill="#262626" stroke="#262626" stroke-width="0.14">C</text>
<line x1="303.80" y1="181.40" x2="303.80" y2="182.60" stroke="#1a1a1a" stroke-width="0.5"/>
<text x="303.80" y="185.90" font-size="3.0" text-anchor="middle" font-weight="bold" fill="#262626" stroke="#262626" stroke-width="0.14">Ex</text>
<text x="316.60" y="139.80" font-size="6.3" text-anchor="start" font-weight="bold" fill="#000" stroke="#000" stroke-width="0.24">N</text>
<text x="330.40" y="162.00" font-size="4.49" text-anchor="middle" font-weight="bold" fill="#111" stroke="#111" stroke-width="0.24" transform="rotate(-90 330.40 162.00)" textLength="32" lengthAdjust="spacingAndGlyphs">NEFA (mmol/L)</text>
<line x1="339.05" y1="141.70" x2="339.05" y2="181.80" stroke="#1a1a1a" stroke-width="0.85"/>
<line x1="338.60" y1="181.40" x2="397.00" y2="181.40" stroke="#1a1a1a" stroke-width="0.85"/>
<line x1="337.60" y1="142.00" x2="339.00" y2="142.00" stroke="#1a1a1a" stroke-width="0.6"/>
<text x="337.30" y="143.20" font-size="2.8" text-anchor="end" font-weight="bold" fill="#222" stroke="#222" stroke-width="0.24">0.5</text>
<line x1="337.60" y1="149.90" x2="339.00" y2="149.90" stroke="#1a1a1a" stroke-width="0.6"/>
<text x="337.30" y="151.10" font-size="2.8" text-anchor="end" font-weight="bold" fill="#222" stroke="#222" stroke-width="0.24">0.4</text>
<line x1="337.60" y1="157.80" x2="339.00" y2="157.80" stroke="#1a1a1a" stroke-width="0.6"/>
<text x="337.30" y="159.00" font-size="2.8" text-anchor="end" font-weight="bold" fill="#222" stroke="#222" stroke-width="0.24">0.3</text>
<line x1="337.60" y1="165.60" x2="339.00" y2="165.60" stroke="#1a1a1a" stroke-width="0.6"/>
<text x="337.30" y="166.80" font-size="2.8" text-anchor="end" font-weight="bold" fill="#222" stroke="#222" stroke-width="0.24">0.2</text>
<line x1="337.60" y1="173.50" x2="339.00" y2="173.50" stroke="#1a1a1a" stroke-width="0.6"/>
<text x="337.30" y="174.70" font-size="2.8" text-anchor="end" font-weight="bold" fill="#222" stroke="#222" stroke-width="0.24">0.1</text>
<line x1="337.60" y1="181.40" x2="339.00" y2="181.40" stroke="#1a1a1a" stroke-width="0.6"/>
<text x="337.30" y="182.60" font-size="2.8" text-anchor="end" font-weight="bold" fill="#222" stroke="#222" stroke-width="0.24">0.0</text>
<line x1="355.80" y1="147.00" x2="355.80" y2="150.60" stroke="#2a2a2a" stroke-width="0.55"/>
<line x1="351.54" y1="147.00" x2="360.06" y2="147.00" stroke="#2a2a2a" stroke-width="0.55"/>
<rect x="347.60" y="150.60" width="16.40" height="30.80" fill="#2a2a2a"/>
<line x1="381.30" y1="151.40" x2="381.30" y2="154.40" stroke="#f33a3b" stroke-width="0.55"/>
<line x1="376.98" y1="151.40" x2="385.62" y2="151.40" stroke="#f33a3b" stroke-width="0.55"/>
<rect x="373.00" y="154.40" width="16.60" height="27.00" fill="#f33a3b"/>
<line x1="355.80" y1="181.40" x2="355.80" y2="182.60" stroke="#1a1a1a" stroke-width="0.5"/>
<text x="355.80" y="185.50" font-size="3.0" text-anchor="middle" font-weight="bold" fill="#262626" stroke="#262626" stroke-width="0.14">C</text>
<line x1="381.30" y1="181.40" x2="381.30" y2="182.60" stroke="#1a1a1a" stroke-width="0.5"/>
<text x="381.30" y="185.50" font-size="3.0" text-anchor="middle" font-weight="bold" fill="#262626" stroke="#262626" stroke-width="0.14">Ex</text>
<text x="7.20" y="207.20" font-size="6.3" text-anchor="start" font-weight="bold" fill="#000" stroke="#000" stroke-width="0.24">O</text>
<text x="13.20" y="236.50" font-size="4.07" text-anchor="middle" font-weight="bold" fill="#111" stroke="#111" stroke-width="0.24" transform="rotate(-90 13.20 236.50)" textLength="45" lengthAdjust="spacingAndGlyphs">Corticosterone (pg/mL)</text>
<line x1="24.05" y1="215.70" x2="24.05" y2="255.40" stroke="#1a1a1a" stroke-width="0.85"/>
<line x1="23.60" y1="255.00" x2="81.00" y2="255.00" stroke="#1a1a1a" stroke-width="0.85"/>
<line x1="22.60" y1="216.00" x2="24.00" y2="216.00" stroke="#1a1a1a" stroke-width="0.6"/>
<text x="22.30" y="217.20" font-size="2.8" text-anchor="end" font-weight="bold" fill="#222" stroke="#222" stroke-width="0.24">3000</text>
<line x1="22.60" y1="229.00" x2="24.00" y2="229.00" stroke="#1a1a1a" stroke-width="0.6"/>
<text x="22.30" y="230.20" font-size="2.8" text-anchor="end" font-weight="bold" fill="#222" stroke="#222" stroke-width="0.24">2000</text>
<line x1="22.60" y1="242.00" x2="24.00" y2="242.00" stroke="#1a1a1a" stroke-width="0.6"/>
<text x="22.30" y="243.20" font-size="2.8" text-anchor="end" font-weight="bold" fill="#222" stroke="#222" stroke-width="0.24">1000</text>
<line x1="22.60" y1="255.00" x2="24.00" y2="255.00" stroke="#1a1a1a" stroke-width="0.6"/>
<text x="22.30" y="256.20" font-size="2.8" text-anchor="end" font-weight="bold" fill="#222" stroke="#222" stroke-width="0.24">0</text>
<line x1="40.00" y1="232.40" x2="40.00" y2="239.00" stroke="#000000" stroke-width="0.55"/>
<line x1="35.84" y1="232.40" x2="44.16" y2="232.40" stroke="#000000" stroke-width="0.55"/>
<rect x="32.00" y="239.00" width="16.00" height="16.00" fill="#000000"/>
<line x1="65.00" y1="222.40" x2="65.00" y2="230.60" stroke="#e6000a" stroke-width="0.55"/>
<line x1="60.84" y1="222.40" x2="69.16" y2="222.40" stroke="#e6000a" stroke-width="0.55"/>
<rect x="57.00" y="230.60" width="16.00" height="24.40" fill="#e6000a"/>
<line x1="40.00" y1="255.00" x2="40.00" y2="256.20" stroke="#1a1a1a" stroke-width="0.5"/>
<text x="40.00" y="258.70" font-size="3.0" text-anchor="middle" font-weight="bold" fill="#262626" stroke="#262626" stroke-width="0.14">C</text>
<line x1="65.00" y1="255.00" x2="65.00" y2="256.20" stroke="#1a1a1a" stroke-width="0.5"/>
<text x="65.00" y="258.70" font-size="3.0" text-anchor="middle" font-weight="bold" fill="#262626" stroke="#262626" stroke-width="0.14">Ex</text>
<text x="91.60" y="207.00" font-size="6.3" text-anchor="start" font-weight="bold" fill="#000" stroke="#000" stroke-width="0.24">P</text>
<text x="97.40" y="235.00" font-size="4.56" text-anchor="middle" font-weight="bold" fill="#111" stroke="#111" stroke-width="0.24" transform="rotate(-90 97.40 235.00)" textLength="18" lengthAdjust="spacingAndGlyphs">Liver (g)</text>
<line x1="105.85" y1="213.70" x2="105.85" y2="255.80" stroke="#1a1a1a" stroke-width="0.85"/>
<line x1="105.40" y1="255.40" x2="167.40" y2="255.40" stroke="#1a1a1a" stroke-width="0.85"/>
<line x1="104.40" y1="214.00" x2="105.80" y2="214.00" stroke="#1a1a1a" stroke-width="0.6"/>
<text x="104.10" y="215.20" font-size="2.8" text-anchor="end" font-weight="bold" fill="#222" stroke="#222" stroke-width="0.24">25</text>
<line x1="104.40" y1="222.30" x2="105.80" y2="222.30" stroke="#1a1a1a" stroke-width="0.6"/>
<text x="104.10" y="223.50" font-size="2.8" text-anchor="end" font-weight="bold" fill="#222" stroke="#222" stroke-width="0.24">20</text>
<line x1="104.40" y1="230.60" x2="105.80" y2="230.60" stroke="#1a1a1a" stroke-width="0.6"/>
<text x="104.10" y="231.80" font-size="2.8" text-anchor="end" font-weight="bold" fill="#222" stroke="#222" stroke-width="0.24">15</text>
<line x1="104.40" y1="238.80" x2="105.80" y2="238.80" stroke="#1a1a1a" stroke-width="0.6"/>
<text x="104.10" y="240.00" font-size="2.8" text-anchor="end" font-weight="bold" fill="#222" stroke="#222" stroke-width="0.24">10</text>
<line x1="104.40" y1="247.10" x2="105.80" y2="247.10" stroke="#1a1a1a" stroke-width="0.6"/>
<text x="104.10" y="248.30" font-size="2.8" text-anchor="end" font-weight="bold" fill="#222" stroke="#222" stroke-width="0.24">5</text>
<line x1="104.40" y1="255.40" x2="105.80" y2="255.40" stroke="#1a1a1a" stroke-width="0.6"/>
<text x="104.10" y="256.60" font-size="2.8" text-anchor="end" font-weight="bold" fill="#222" stroke="#222" stroke-width="0.24">0</text>
<line x1="123.20" y1="222.40" x2="123.20" y2="226.00" stroke="#2a2a2a" stroke-width="0.55"/>
<line x1="118.62" y1="222.40" x2="127.78" y2="222.40" stroke="#2a2a2a" stroke-width="0.55"/>
<rect x="114.40" y="226.00" width="17.60" height="29.40" fill="#2a2a2a"/>
<line x1="150.30" y1="229.40" x2="150.30" y2="230.00" stroke="#f33a3b" stroke-width="0.55"/>
<line x1="145.78" y1="229.40" x2="154.82" y2="229.40" stroke="#f33a3b" stroke-width="0.55"/>
<rect x="141.60" y="230.00" width="17.40" height="25.40" fill="#f33a3b"/>
<line x1="123.20" y1="255.40" x2="123.20" y2="256.60" stroke="#1a1a1a" stroke-width="0.5"/>
<text x="123.20" y="258.70" font-size="3.0" text-anchor="middle" font-weight="bold" fill="#262626" stroke="#262626" stroke-width="0.14">C</text>
<line x1="150.30" y1="255.40" x2="150.30" y2="256.60" stroke="#1a1a1a" stroke-width="0.5"/>
<text x="150.30" y="258.70" font-size="3.0" text-anchor="middle" font-weight="bold" fill="#262626" stroke="#262626" stroke-width="0.14">Ex</text>
<text x="175.20" y="207.20" font-size="6.3" text-anchor="start" font-weight="bold" fill="#000" stroke="#000" stroke-width="0.24">Q</text>
<text x="190.20" y="235.00" font-size="4.41" text-anchor="middle" font-weight="bold" fill="#111" stroke="#111" stroke-width="0.24" transform="rotate(-90 190.20 235.00)" textLength="38" lengthAdjust="spacingAndGlyphs">Hepatic TG (mg/g)</text>
<line x1="198.45" y1="214.70" x2="198.45" y2="255.80" stroke="#1a1a1a" stroke-width="0.85"/>
<line x1="198.00" y1="255.40" x2="258.40" y2="255.40" stroke="#1a1a1a" stroke-width="0.85"/>
<line x1="197.00" y1="215.00" x2="198.40" y2="215.00" stroke="#1a1a1a" stroke-width="0.6"/>
<text x="196.70" y="216.20" font-size="2.8" text-anchor="end" font-weight="bold" fill="#222" stroke="#222" stroke-width="0.24">30</text>
<line x1="197.00" y1="228.50" x2="198.40" y2="228.50" stroke="#1a1a1a" stroke-width="0.6"/>
<text x="196.70" y="229.70" font-size="2.8" text-anchor="end" font-weight="bold" fill="#222" stroke="#222" stroke-width="0.24">20</text>
<line x1="197.00" y1="241.90" x2="198.40" y2="241.90" stroke="#1a1a1a" stroke-width="0.6"/>
<text x="196.70" y="243.10" font-size="2.8" text-anchor="end" font-weight="bold" fill="#222" stroke="#222" stroke-width="0.24">10</text>
<line x1="197.00" y1="255.40" x2="198.40" y2="255.40" stroke="#1a1a1a" stroke-width="0.6"/>
<text x="196.70" y="256.60" font-size="2.8" text-anchor="end" font-weight="bold" fill="#222" stroke="#222" stroke-width="0.24">0</text>
<line x1="215.50" y1="222.00" x2="215.50" y2="228.00" stroke="#2a2a2a" stroke-width="0.55"/>
<line x1="211.08" y1="222.00" x2="219.92" y2="222.00" stroke="#2a2a2a" stroke-width="0.55"/>
<rect x="207.00" y="228.00" width="17.00" height="27.40" fill="#2a2a2a"/>
<line x1="240.90" y1="228.40" x2="240.90" y2="234.00" stroke="#f33a3b" stroke-width="0.55"/>
<line x1="236.48" y1="228.40" x2="245.32" y2="228.40" stroke="#f33a3b" stroke-width="0.55"/>
<rect x="232.40" y="234.00" width="17.00" height="21.40" fill="#f33a3b"/>
<line x1="215.50" y1="255.40" x2="215.50" y2="256.60" stroke="#1a1a1a" stroke-width="0.5"/>
<text x="215.50" y="258.70" font-size="3.0" text-anchor="middle" font-weight="bold" fill="#262626" stroke="#262626" stroke-width="0.14">C</text>
<line x1="241.00" y1="255.40" x2="241.00" y2="256.60" stroke="#1a1a1a" stroke-width="0.5"/>
<text x="241.00" y="258.70" font-size="3.0" text-anchor="middle" font-weight="bold" fill="#262626" stroke="#262626" stroke-width="0.14">Ex</text>
</svg>
</body></html>
